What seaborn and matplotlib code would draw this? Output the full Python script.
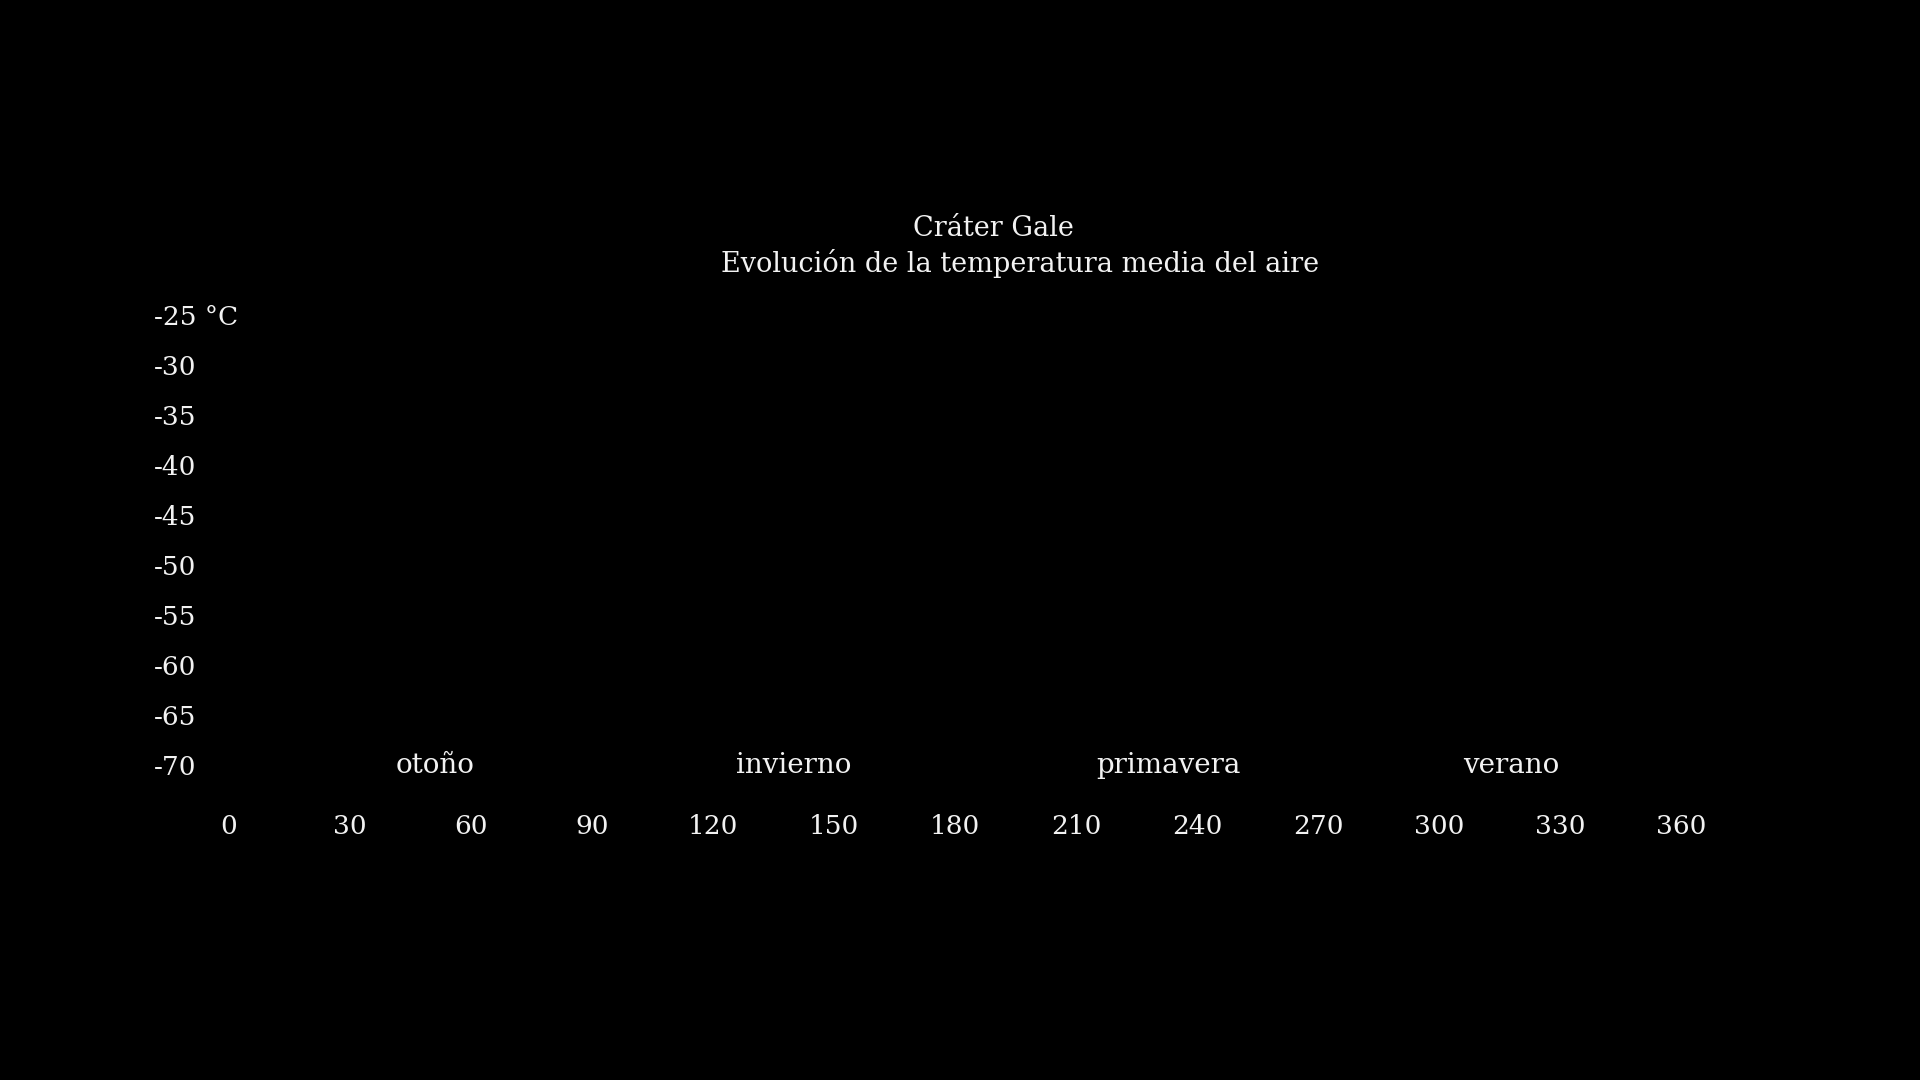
import matplotlib.pyplot as plt
import seaborn as sns

# Ejes: soles marcianos (x) y temperatura (y)
x_ticks = [0, 30, 60, 90, 120, 150, 180, 210, 240, 270, 300, 330, 360]
y_ticks = [-25, -30, -35, -40, -45, -50, -55, -60, -65, -70]
y_labels = ['-25 °C', '-30', '-35', '-40', '-45', '-50', '-55', '-60', '-65', '-70']

# Estaciones y su posición aproximada en el eje x
seasons = ['otoño', 'invierno', 'primavera', 'verano']
season_pos = [51, 140, 233, 318]

sns.set_theme(style='dark', rc={'axes.facecolor': 'black', 'figure.facecolor': 'black'})
plt.rcParams['font.family'] = ['DejaVu Serif']
plt.rcParams['axes.unicode_minus'] = False

txt = '#f2f2f2'
fig = plt.figure(figsize=(19.2, 10.8), dpi=100)
ax = fig.add_axes([229 / 1920, 1 - 765 / 1080, (1681 - 229) / 1920, 450 / 1080])
ax.set_xlim(0, 360)
ax.set_ylim(-70, -25)

ax.set_xticks(x_ticks)
ax.set_xticklabels([str(v) for v in x_ticks], color=txt, fontsize=19)
ax.set_yticks(y_ticks)
ax.set_yticklabels(y_labels, color=txt, fontsize=19, ha='left')
ax.tick_params(axis='x', length=0, pad=35)
ax.tick_params(axis='y', length=0, pad=54)
ax.grid(False)
sns.despine(ax=ax, left=True, bottom=True)

for name, pos in zip(seasons, season_pos):
    ax.text(pos, -70, name, color=txt, fontsize=20, ha='center', va='center')

fig.text(993 / 1920, 1 - 229 / 1080, 'Cráter Gale', color=txt,
         fontsize=19.5, ha='center', va='center')
fig.text(1020 / 1920, 1 - 264 / 1080, 'Evolución de la temperatura media del aire',
         color=txt, fontsize=19.5, ha='center', va='center')

fig.savefig('out.png', dpi=100, facecolor='black')
